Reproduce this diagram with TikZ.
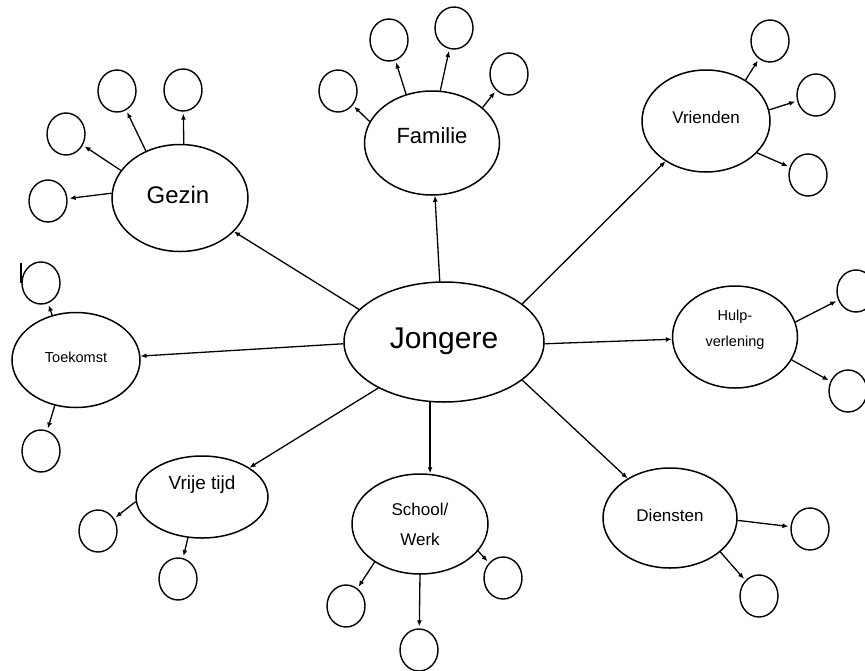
\documentclass[tikz,border=0pt]{standalone}
\usepackage{fontspec}
\setmainfont{Liberation Sans}
\usetikzlibrary{shapes.geometric,arrows.meta}
\begin{document}
\begin{tikzpicture}[x=1pt,y=-1pt,
  big/.style={draw,ellipse,line width=1.5pt,inner sep=0pt},
  sm/.style={draw,ellipse,line width=1.4pt,minimum width=38pt,minimum height=42pt,inner sep=0pt},
  arr/.style={line width=1.3pt,-{Latex[length=6pt,width=5pt]}},
  sub/.style={arr,shorten >=2pt},
  lbl/.style={align=center,text=black,inner sep=0pt}]
\useasboundingbox (0,0) rectangle (865,670);

% main ellipses
\node[big,minimum width=200pt,minimum height=120pt] (jong) at (444,342) {};
\node[big,minimum width=136pt,minimum height=107pt] (gez) at (180,198) {};
\node[big,minimum width=135pt,minimum height=104pt] (fam) at (432,143) {};
\node[big,minimum width=128pt,minimum height=102pt] (vri) at (706,121) {};
\node[big,minimum width=125pt,minimum height=102pt] (hulp) at (735,337) {};
\node[big,minimum width=128pt,minimum height=95pt] (toe) at (76,360) {};
\node[big,minimum width=132pt,minimum height=82pt] (vrij) at (202,497) {};
\node[big,minimum width=136pt,minimum height=100pt] (sch) at (420,524) {};
\node[big,minimum width=134pt,minimum height=100pt] (die) at (670,518) {};

% labels
\node[lbl,font=\fontsize{30}{36}\selectfont] (tjong) at (444,341) {Jongere};
\node[lbl,font=\fontsize{24}{28}\selectfont] (tgez) at (178,195) {Gezin};
\node[lbl,font=\fontsize{22}{26}\selectfont] (tfam) at (432,136) {Familie};
\node[lbl,font=\fontsize{17}{20}\selectfont] (tvri) at (706,117) {Vrienden};
\node[lbl,font=\fontsize{14.5}{26}\selectfont] (thulp) at (735,330) {Hulp-\\verlening};
\node[lbl,font=\fontsize{14.5}{17}\selectfont] (ttoe) at (76,357) {Toekomst};
\node[lbl,font=\fontsize{19}{22}\selectfont] (tvrij) at (202,485) {Vrije tijd};
\node[lbl,font=\fontsize{17}{30}\selectfont] (tsch) at (420,524) {School/\\Werk};
\node[lbl,font=\fontsize{17}{20}\selectfont] (tdie) at (670,515) {Diensten};

% small circles
\node[sm] (g1) at (117,91) {};
\node[sm] (g2) at (183,90) {};
\node[sm] (g3) at (66,134) {};
\node[sm] (g4) at (48,201) {};
\node[sm] (f1) at (338,91) {};
\node[sm] (f2) at (389,40) {};
\node[sm] (f3) at (454,28) {};
\node[sm] (f4) at (509,74) {};
\node[sm] (v1) at (770,41) {};
\node[sm] (v2) at (816,95) {};
\node[sm] (v3) at (808,175) {};
\node[sm] (h1) at (856,291) {};
\node[sm] (h2) at (848,391) {};
\node[sm] (t1) at (41,283) {};
\node[sm] (t2) at (41,451) {};
\node[sm] (r1) at (98,531) {};
\node[sm] (r2) at (178,579) {};
\node[sm] (s1) at (346,606) {};
\node[sm] (s2) at (419,650) {};
\node[sm] (s3) at (503,578) {};
\node[sm] (d1) at (810,529) {};
\node[sm] (d2) at (759,596) {};

% stray stroke
\draw[line width=1.3pt] (21,263) -- (21,283);

% main arrows
\draw[arr] (jong.159) -- (gez);
\draw[arr] (jong.94) -- (fam);
\draw[arr] (jong.26) -- (vri);
\draw[arr] (jong.-1) -- (hulp);
\draw[arr] (jong.-26) -- (die);
\draw[arr] (jong.-103) -- (jong.-103 |- sch.north);
\draw[arr] (jong.-145) -- (vrij);
\draw[arr] (jong.181) -- (toe);

% sub arrows
\draw[sub] (gez.176) -- (g4);
\draw[sub] (gez.155) -- (g3);
\draw[sub] (gez.126) -- (g1);
\draw[sub] (gez.86) -- (g2);
\draw[sub] (fam.161) -- (f1);
\draw[sub] (fam.118) -- (f2);
\draw[sub] (fam.81) -- (f3);
\draw[sub] (fam.35) -- (f4);
\draw[sub] (vri.46) -- (v1);
\draw[sub] (vri.10) -- (v2);
\draw[sub] (vri.-32) -- (v3);
\draw[sub] (hulp.14) -- (h1);
\draw[sub] (hulp.-22) -- (h2);
\draw[sub] (toe.118) -- (t1);
\draw[sub] (toe.-115) -- (t2);
\draw[sub] (vrij.184) -- (r1);
\draw[sub] (vrij.-109) -- (r2);
\draw[sub] (sch.-140) -- (s1);
\draw[sub] (sch.-90) -- (s2);
\draw[sub] (sch.-25) -- (s3);
\draw[sub] (die.-2) -- (d1);
\draw[sub] (die.-34) -- (d2);
\end{tikzpicture}
\end{document}
